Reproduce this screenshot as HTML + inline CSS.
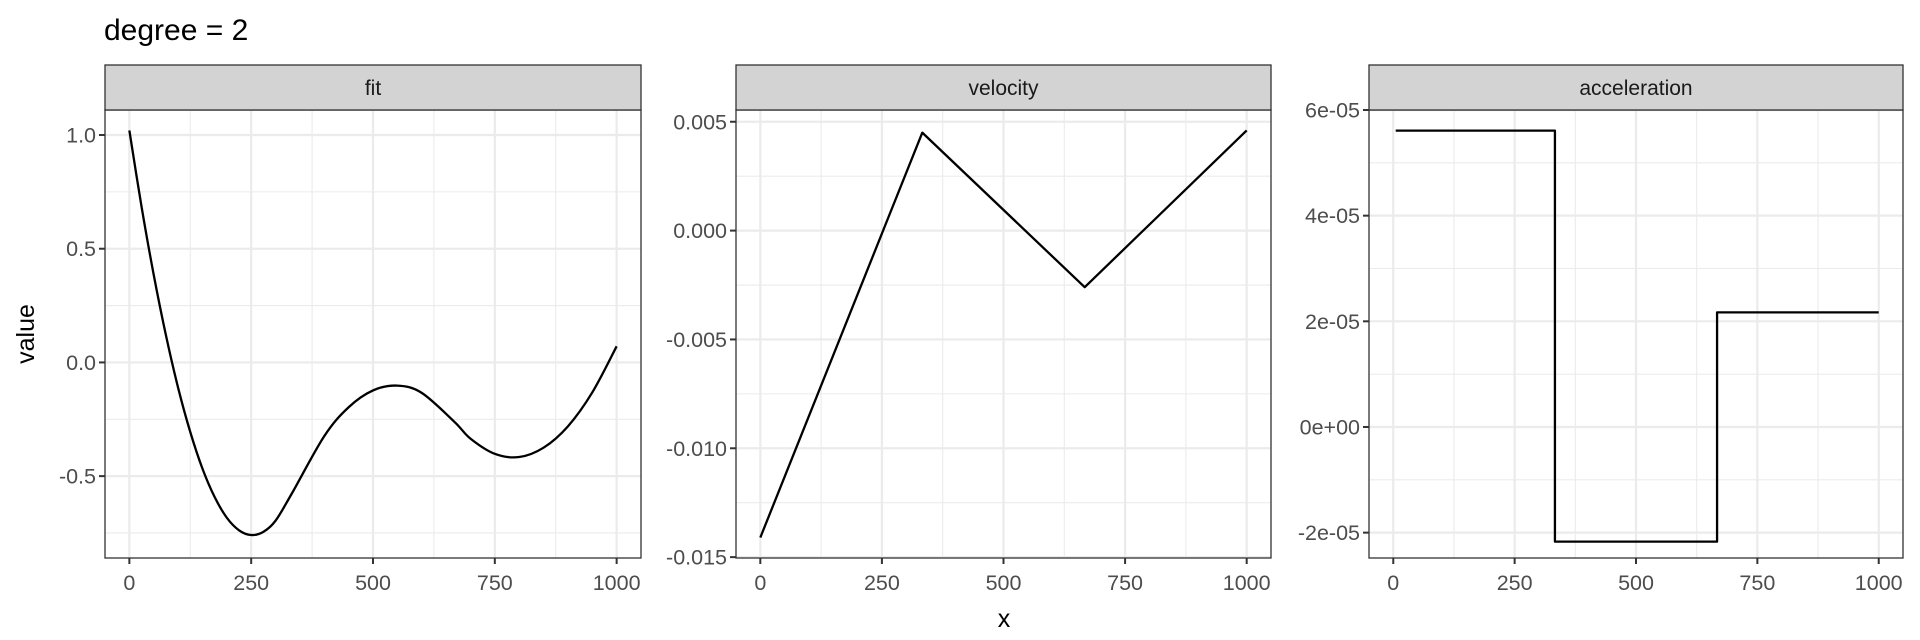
<!DOCTYPE html>
<html><head><meta charset="utf-8"><style>
html,body{margin:0;padding:0;background:#fff;}
svg{display:block;font-family:"Liberation Sans",Arial,sans-serif;}
</style></head><body>
<svg id="chart" width="1920" height="640" viewBox="0 0 1920 640">
<text x="104" y="40" font-size="30" fill="#000">degree = 2</text>
<text transform="translate(34,334) rotate(-90)" text-anchor="middle" font-size="25" fill="#000">value</text>
<text x="1004" y="627" text-anchor="middle" font-size="25" fill="#000">x</text>
</svg>
<script>
// ---- data ----
const xTicks = [0, 250, 500, 750, 1000];
const xTickLabels = ["0", "250", "500", "750", "1000"];

const fitX = [0,25,50,75,100,125,150,175,200,225,250,275,300,333,400,450,500,550,600,667,700,750,800,850,900,950,1000];
const fitY = [1.02,0.685,0.385,0.12,-0.111,-0.306,-0.467,-0.592,-0.683,-0.738,-0.759,-0.745,-0.696,-0.578,-0.324,-0.197,-0.123,-0.102,-0.134,-0.261,-0.335,-0.402,-0.416,-0.375,-0.281,-0.132,0.071];
const fitTicks = [1.0, 0.5, 0.0, -0.5];
const fitTickLabels = ["1.0", "0.5", "0.0", "-0.5"];
const fitMinor = [0.75, 0.25, -0.25, -0.75];

const velX = [0, 333, 667, 1000];
const velY = [-0.0141, 0.0045, -0.0026, 0.0046];
const velTicks = [0.005, 0.0, -0.005, -0.010, -0.015];
const velTickLabels = ["0.005", "0.000", "-0.005", "-0.010", "-0.015"];
const velMinor = [0.0025, -0.0025, -0.0075, -0.0125];

const accX = [5, 333, 333, 667, 667, 1000];
const accY = [5.61e-5, 5.61e-5, -2.17e-5, -2.17e-5, 2.17e-5, 2.17e-5];
const accTicks = [6e-5, 4e-5, 2e-5, 0, -2e-5];
const accTickLabels = ["6e-05", "4e-05", "2e-05", "0e+00", "-2e-05"];
const accMinor = [5e-5, 3e-5, 1e-5, -1e-5];

const xMinor = [125, 375, 625, 875];

// ---- layout ----
const svg = document.getElementById('chart');
const NS = 'http://www.w3.org/2000/svg';
const TOP = 110, BOTTOM = 558, STRIP_TOP = 65;
function mk(tag, attrs, parent) {
  const e = document.createElementNS(NS, tag);
  for (const k in attrs) e.setAttribute(k, attrs[k]);
  (parent || svg).appendChild(e);
  return e;
}

function panel(name, left, right, yLo, yHi, xs, ys, ticks, tickLabels, minor, title, smooth) {
  const xScale = v => left + (v + 50) / 1100 * (right - left);
  const yScale = v => BOTTOM - (v - yLo) / (yHi - yLo) * (BOTTOM - TOP);
  const g = mk('g', {});
  
  
  mk('rect', {x: left, y: TOP, width: right - left, height: BOTTOM - TOP, fill: '#fff'}, g);
  minor.forEach(v => {
    const l = mk('line', {x1: left, x2: right, y1: yScale(v), y2: yScale(v), stroke: '#ebebeb', 'stroke-width': 1.1}, g);
    
    
  });
  xMinor.forEach(v => {
    const l = mk('line', {x1: xScale(v), x2: xScale(v), y1: TOP, y2: BOTTOM, stroke: '#ebebeb', 'stroke-width': 1.1}, g);
    
    
  });
  ticks.forEach((v, i) => {
    const y = yScale(v);
    const l = mk('line', {x1: left, x2: right, y1: y, y2: y, stroke: '#ebebeb', 'stroke-width': 2.2}, g);
    
    
    mk('line', {x1: left - 6, x2: left, y1: y, y2: y, stroke: '#333', 'stroke-width': 2}, g);
    const t = mk('text', {x: left - 9, y: y + 7.5, 'text-anchor': 'end', 'font-size': 21.5, fill: '#4d4d4d'}, g);
    t.textContent = tickLabels[i];
    
    
  });
  xTicks.forEach((v, i) => {
    const x = xScale(v);
    const l = mk('line', {x1: x, x2: x, y1: TOP, y2: BOTTOM, stroke: '#ebebeb', 'stroke-width': 2.2}, g);
    
    
    mk('line', {x1: x, x2: x, y1: BOTTOM, y2: BOTTOM + 6, stroke: '#333', 'stroke-width': 2}, g);
    const t = mk('text', {x: x, y: BOTTOM + 32, 'text-anchor': 'middle', 'font-size': 21.5, fill: '#4d4d4d'}, g);
    t.textContent = xTickLabels[i];
    
    
  });
  const P = xs.map((v, i) => [xScale(v), yScale(ys[i])]);
  let d = 'M' + P[0][0].toFixed(2) + ',' + P[0][1].toFixed(2);
  for (let i = 1; i < P.length; i++) {
    if (smooth) {
      const p0 = P[Math.max(0, i - 2)], p1 = P[i - 1], p2 = P[i], p3 = P[Math.min(P.length - 1, i + 1)];
      const c1 = [p1[0] + (p2[0] - p0[0]) / 6, p1[1] + (p2[1] - p0[1]) / 6];
      const c2 = [p2[0] - (p3[0] - p1[0]) / 6, p2[1] - (p3[1] - p1[1]) / 6];
      d += 'C' + c1[0].toFixed(2) + ',' + c1[1].toFixed(2) + ' ' + c2[0].toFixed(2) + ',' + c2[1].toFixed(2) + ' ' + p2[0].toFixed(2) + ',' + p2[1].toFixed(2);
    } else {
      d += 'L' + P[i][0].toFixed(2) + ',' + P[i][1].toFixed(2);
    }
  }
  const p = mk('path', {d: d, fill: 'none', stroke: '#000', 'stroke-width': 2.3, 'stroke-linejoin': 'round'}, g);
  
  
  mk('rect', {x: left, y: TOP, width: right - left, height: BOTTOM - TOP, fill: 'none', stroke: '#333', 'stroke-width': 1.3}, g);
  const s = mk('rect', {x: left, y: STRIP_TOP, width: right - left, height: TOP - STRIP_TOP, fill: '#d3d3d3', stroke: '#333', 'stroke-width': 1.3}, g);
  
  
  const st = mk('text', {x: (left + right) / 2, y: STRIP_TOP + 30, 'text-anchor': 'middle', 'font-size': 21, fill: '#1a1a1a'}, g);
  st.textContent = title;
  
  
}

panel('fit', 105, 641, -0.86, 1.11, fitX, fitY, fitTicks, fitTickLabels, fitMinor, 'fit', true);
panel('velocity', 736, 1271, -0.01504, 0.00554, velX, velY, velTicks, velTickLabels, velMinor, 'velocity', false);
panel('acceleration', 1369, 1903, -2.48e-5, 6.0e-5, accX, accY, accTicks, accTickLabels, accMinor, 'acceleration', false);
</script>
</body></html>
